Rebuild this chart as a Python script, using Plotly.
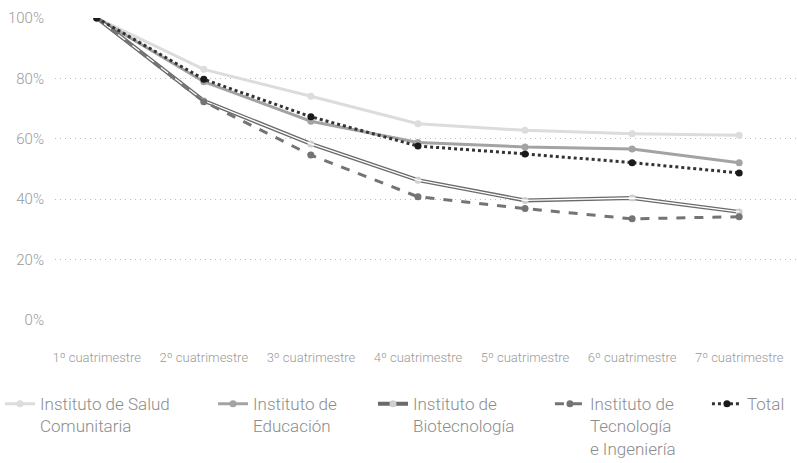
import plotly.graph_objects as go

categories = ["1º cuatrimestre", "2º cuatrimestre", "3º cuatrimestre", "4º cuatrimestre",
              "5º cuatrimestre", "6º cuatrimestre", "7º cuatrimestre"]
salud = [100, 83.0, 74.1, 65.0, 62.8, 61.7, 61.2]
educacion = [100, 78.9, 65.8, 58.8, 57.3, 56.6, 52.1]
biotec = [100, 72.6, 58.3, 46.3, 39.6, 40.4, 35.8]
tecno = [100, 72.3, 54.6, 40.8, 36.9, 33.5, 34.2]
total = [100, 79.7, 67.3, 57.6, 55.0, 52.1, 48.7]
y_ticks = [0, 20, 40, 60, 80, 100]
y_labels = ["0%", "20%", "40%", "60%", "80%", "100%"]

names = ["Instituto de Salud<br>Comunitaria", "Instituto de<br>Educación",
         "Instituto de<br>Biotecnología", "Instituto de<br>Tecnología<br>e Ingeniería", "Total"]

fig = go.Figure()
fig.add_trace(go.Scatter(x=categories, y=salud, name=names[0], mode="lines+markers", legend="legend",
                         line=dict(color="#dcdcdc", width=3), marker=dict(color="#dcdcdc", size=7)))
fig.add_trace(go.Scatter(x=categories, y=educacion, name=names[1], mode="lines+markers", legend="legend2",
                         line=dict(color="#a3a3a3", width=3), marker=dict(color="#a3a3a3", size=7)))
fig.add_trace(go.Scatter(x=categories, y=biotec, name=names[2], mode="lines+markers", legend="legend3",
                         legendgroup="bio",
                         line=dict(color="#6a6a6a", width=4), marker=dict(color="#cfcfcf", size=7)))
fig.add_trace(go.Scatter(x=categories, y=biotec, name=names[2], mode="lines", legend="legend3",
                         legendgroup="bio", showlegend=False, hoverinfo="skip",
                         line=dict(color="#ffffff", width=1.3)))
fig.add_trace(go.Scatter(x=categories, y=tecno, name=names[3], mode="lines+markers", legend="legend4",
                         line=dict(color="#747474", width=3, dash="dash"), marker=dict(color="#747474", size=7)))
fig.add_trace(go.Scatter(x=categories, y=total, name=names[4], mode="lines+markers", legend="legend5",
                         line=dict(color="#333333", width=3, dash="dot"), marker=dict(color="#1a1a1a", size=7)))

legend_x = [0.0, 0.2673, 0.468, 0.690, 0.887]
legend_font = dict(size=17, color="#8c8c8c", family="Roboto", weight=300)


def make_legend(x):
    return dict(orientation="h", xref="container", yref="container", x=x, y=0.166,
                xanchor="left", yanchor="top", font=legend_font, itemwidth=30,
                valign="top", bgcolor="rgba(0,0,0,0)")


fig.update_layout(
    width=797, height=463,
    margin=dict(l=55, r=0, t=18, b=143, autoexpand=False),
    plot_bgcolor="white", paper_bgcolor="white",
    font=dict(family="Roboto", color="#8c8c8c", weight=300),
    showlegend=True,
    legend=make_legend(legend_x[0]),
    legend2=make_legend(legend_x[1]),
    legend3=make_legend(legend_x[2]),
    legend4=make_legend(legend_x[3]),
    legend5=make_legend(legend_x[4]),
    xaxis=dict(range=[-0.39, 6.54], showgrid=False, zeroline=False, showline=False,
               automargin=False,
               tickfont=dict(size=13, color="#9a9a9a", family="Roboto", weight=300),
               ticks="", ticklabelstandoff=28),
    yaxis=dict(range=[0, 100], tickvals=y_ticks, ticktext=y_labels, showgrid=True,
               automargin=False,
               gridcolor="#bdbdbd", griddash="1px,4px", gridwidth=1, zeroline=False,
               tickfont=dict(size=15, color="#9a9a9a", family="Roboto", weight=300),
               ticks="", showline=False, ticklabelstandoff=10),
)
fig.write_html("out.html", config={"displayModeBar": False},
               post_script="document.body.style.margin='0';")
